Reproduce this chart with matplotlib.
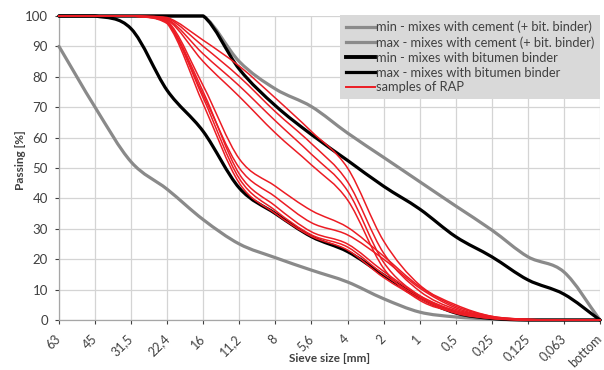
import numpy as np
import matplotlib
matplotlib.use("Agg")
import matplotlib.pyplot as plt
from matplotlib.path import Path
from matplotlib.patches import PathPatch
from matplotlib.lines import Line2D

plt.rcParams['font.family'] = ['Lato', 'DejaVu Sans']

sieves = ["63", "45", "31,5", "22,4", "16", "11,2", "8", "5,6", "4", "2", "1",
          "0,5", "0,25", "0,125", "0,063", "bottom"]

min_cement = [90, 70, 52, 43, 33, 25, 20.5, 16.4, 12.5, 7, 2.6, 1, 0.3, 0, 0, 0]
max_cement = [100, 100, 100, 100, 100, 85, 76, 70.2, 61.5, 53.5, 45.5, 37.5, 29.6, 20.8, 15.8, 0]
min_bitumen = [100, 100, 95.8, 75.5, 62, 43.4, 35, 27.4, 22.5, 14.8, 7.4, 2.3, 0.5, 0, 0, 0]
max_bitumen = [100, 100, 100, 100, 100, 82.5, 70.5, 61, 52.5, 44, 36.5, 27.4, 20.8, 13.2, 8.5, 0]

rap_samples = [
    [100, 100, 100, 98, 75, 48, 37.5, 29, 25, 16, 8, 3, 0.8, 0.1, 0, 0],
    [100, 100, 100, 98, 73, 46.5, 36, 28, 24, 15, 7.5, 2.5, 0.6, 0, 0, 0],
    [100, 100, 100, 97.5, 71, 45, 35, 27.5, 23, 14, 7, 2.2, 0.5, 0, 0, 0],
    [100, 100, 100, 98.5, 77, 53, 44, 36, 30.5, 21, 11, 4.5, 1.2, 0.2, 0, 0],
    [100, 100, 100, 98, 74, 50, 40.5, 32, 28, 20, 10.5, 4, 1, 0.2, 0, 0],
    [100, 100, 100, 99.5, 92, 83.5, 73, 62, 50, 26, 11.5, 5, 1.2, 0.2, 0, 0],
    [100, 100, 100, 99.3, 90, 80, 68.5, 58, 45.5, 22, 9.5, 3.5, 1, 0, 0, 0],
    [100, 100, 100, 99, 87.5, 77, 65.5, 54.5, 42.5, 19, 8, 3, 0.8, 0, 0, 0],
    [100, 100, 100, 98.8, 85, 73.5, 61.5, 51, 39.5, 17, 6.5, 2.5, 0.5, 0, 0, 0],
]

legend_labels = ["min - mixes with cement (+ bit. binder)",
                 "max - mixes with cement (+ bit. binder)",
                 "min - mixes with bitumen binder",
                 "max - mixes with bitumen binder",
                 "samples of RAP"]

GRAY = '#8a8a8a'
BLACK = '#000000'
RED = '#ec1c24'
TEXT = '#404040'


def smooth_path(x, y, lo=0.0, hi=100.0):
    """Catmull-Rom style smoothed line (like spreadsheet 'smoothed line')."""
    x = np.asarray(x, float)
    y = np.asarray(y, float)
    n = len(x)
    m = np.zeros(n)
    m[0] = (y[1] - y[0]) / (x[1] - x[0])
    m[-1] = (y[-1] - y[-2]) / (x[-1] - x[-2])
    for k in range(1, n - 1):
        m[k] = (y[k + 1] - y[k - 1]) / (x[k + 1] - x[k - 1])
    verts = [(x[0], y[0])]
    codes = [Path.MOVETO]
    for k in range(n - 1):
        h = x[k + 1] - x[k]
        c1 = np.clip(y[k] + m[k] * h / 3, lo, hi)
        c2 = np.clip(y[k + 1] - m[k + 1] * h / 3, lo, hi)
        verts.append((x[k] + h / 3, c1))
        verts.append((x[k + 1] - h / 3, c2))
        verts.append((x[k + 1], y[k + 1]))
        codes += [Path.CURVE4] * 3
    return Path(verts, codes)


fig = plt.figure(figsize=(6.04, 3.70), dpi=100)
ax = fig.add_axes([59 / 604, 1 - 320 / 370, 541 / 604, 304 / 370])

xpos = np.arange(len(sieves))


def draw(vals, color, lw, z):
    p = PathPatch(smooth_path(xpos, vals), fill=False, edgecolor=color,
                  linewidth=lw, capstyle='round', joinstyle='round',
                  zorder=z, clip_on=False)
    ax.add_patch(p)


draw(min_cement, GRAY, 2.3, 3)
draw(max_cement, GRAY, 2.3, 3)
draw(min_bitumen, BLACK, 2.3, 4)
draw(max_bitumen, BLACK, 2.3, 4)
for s in rap_samples:
    draw(s, RED, 1.1, 5)

ax.set_xlim(0, len(sieves) - 1)
ax.set_ylim(0, 100)
ax.set_xticks(xpos)
ax.set_xticklabels(sieves, rotation=45, ha='right', va='center',
                   rotation_mode='anchor', fontsize=9, color=TEXT)
ax.set_yticks(np.arange(0, 101, 10))
ax.tick_params(axis='y', labelsize=9.5, colors=TEXT, length=3, width=0.8,
               pad=5)
ax.tick_params(axis='x', length=3, width=0.8, pad=9, colors=TEXT)
ax.grid(True, color='#d4d4d4', linewidth=0.9, zorder=0)
ax.set_axisbelow(True)
for sp in ['top', 'right']:
    ax.spines[sp].set_visible(False)
for sp in ['left', 'bottom']:
    ax.spines[sp].set_color('#a6a6a6')
    ax.spines[sp].set_linewidth(0.9)

fig.text(20 / 604, 1 - 160 / 370, "Passing [%]", rotation=90, ha='center',
         va='center', fontsize=8.5, fontweight='bold', color=TEXT)
fig.text(330 / 604, 1 - 359 / 370, "Sieve size [mm]", ha='center',
         va='center', fontsize=8.5, fontweight='bold', color=TEXT)

handles = [Line2D([], [], color=GRAY, lw=2.3),
           Line2D([], [], color=GRAY, lw=2.3),
           Line2D([], [], color=BLACK, lw=2.8),
           Line2D([], [], color=BLACK, lw=2.3),
           Line2D([], [], color=RED, lw=1.4)]
leg = ax.legend(handles, legend_labels, loc='upper right',
                bbox_to_anchor=(1.0, 1.003), fontsize=9.3, frameon=True,
                fancybox=False, framealpha=1, facecolor='#d9d9d9',
                edgecolor='none', handlelength=2.2, handletextpad=0.1,
                borderaxespad=0, labelspacing=0.22, borderpad=0.45)
for t in leg.get_texts():
    t.set_color(TEXT)
leg.set_zorder(10)

fig.savefig("out.png", dpi=100)
